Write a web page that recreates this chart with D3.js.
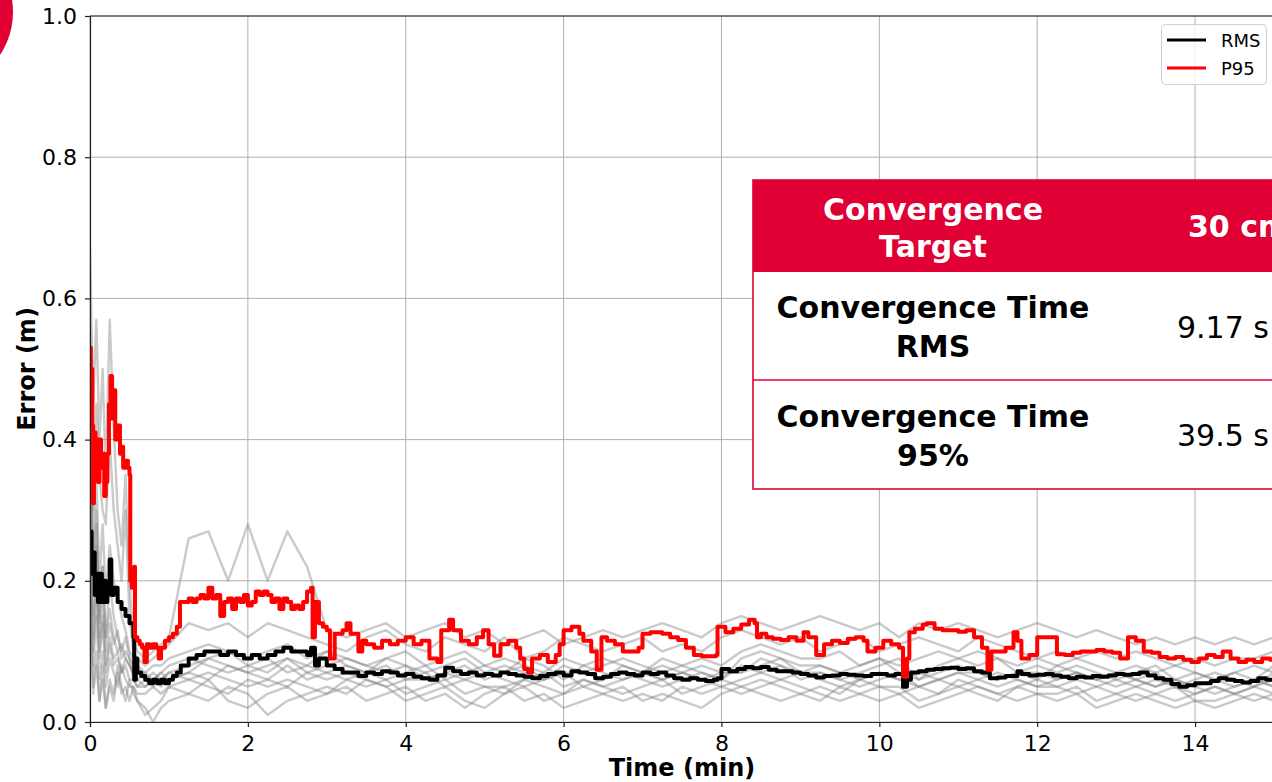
<!DOCTYPE html>
<html><head><meta charset="utf-8">
<script src="https://cdn.jsdelivr.net/npm/d3@7"></script>
<style>html,body{margin:0;padding:0;background:#fff;overflow:hidden}</style>
</head><body>
<svg id="c" width="1272" height="782"></svg>
<script>
// ---------------- DATA ----------------
const xTicks = [0, 2, 4, 6, 8, 10, 12, 14];
const yTicks = [0.0, 0.2, 0.4, 0.6, 0.8, 1.0];
const seriesNames = ["RMS", "P95"];

// time grid (min) shared by the individual runs (grey)
const runTimes = [0,0.04,0.08,0.12,0.16,0.2, 0.25,0.3,0.35,0.4,0.45,0.5,0.55, 0.6,0.7,0.8,0.9,1,
  1.25,1.5,1.75,2, 2.25,2.5,2.75,3, 3.25,3.5,3.75,4, 4.25,4.5,4.75,5, 5.25,5.5,5.75,6, 6.25,6.5,6.75,7,
  7.25,7.5,7.75,8, 8.25,8.5,8.75,9, 9.25,9.5,9.75,10, 10.25,10.5,10.75,11, 11.25,11.5,11.75,12,
  12.25,12.5,12.75,13, 13.25,13.5,13.75,14, 14.25,14.5,14.75,15];

const runA = [0.67,0.45,0.57,0.40,0.50,0.35, 0.57,0.42,0.30,0.25,0.35,0.20,0.12, 0.10,0.09,0.10,0.11,0.12,
  0.26,0.27,0.20,0.28, 0.20,0.27,0.22,0.13, 0.12,0.13,0.14,0.12, 0.13,0.14,0.12,0.13, 0.11,0.12,0.13,0.11,
  0.12,0.13,0.12,0.13, 0.14,0.13,0.12,0.14, 0.15,0.14,0.13,0.14, 0.15,0.14,0.13,0.14, 0.12,0.14,0.13,0.14,
  0.13,0.12,0.13,0.14, 0.13,0.12,0.13,0.12, 0.11,0.12,0.11,0.12, 0.11,0.12,0.11,0.12];
const runB = [0.55,0.30,0.45,0.35,0.30,0.28, 0.40,0.30,0.25,0.20,0.30,0.15,0.10, 0.09,0.08,0.09,0.10,0.11,
  0.14,0.13,0.14,0.12, 0.14,0.13,0.12,0.11, 0.10,0.12,0.13,0.11, 0.10,0.12,0.11,0.10, 0.12,0.09,0.10,0.12,
  0.11,0.10,0.11,0.12, 0.10,0.11,0.10,0.12, 0.13,0.12,0.11,0.12, 0.10,0.11,0.12,0.10, 0.11,0.12,0.11,0.10,
  0.12,0.11,0.10,0.09, 0.10,0.09,0.10,0.09, 0.10,0.09,0.08,0.09, 0.08,0.09,0.09,0.10];
const runC = [0.30,0.12,0.20,0.10,0.15,0.08, 0.12,0.09,0.10,0.07,0.09,0.08,0.07, 0.06,0.05,0.06,0.07,0.08,
  0.09,0.08,0.07,0.08, 0.09,0.07,0.08,0.07, 0.06,0.07,0.08,0.06, 0.07,0.05,0.06,0.07, 0.06,0.05,0.06,0.07,
  0.05,0.06,0.07,0.06, 0.05,0.06,0.07,0.06, 0.08,0.07,0.06,0.07, 0.06,0.05,0.06,0.07, 0.06,0.05,0.06,0.07,
  0.06,0.05,0.06,0.05, 0.06,0.07,0.06,0.05, 0.06,0.05,0.06,0.05, 0.04,0.05,0.06,0.05];
const runD = [0.20,0.05,0.10,0.03,0.08,0.02, 0.06,0.04,0.08,0.05,0.03,0.06,0.04, 0.03,0.01,0.02,0.03,0.05,
  0.04,0.06,0.03,0.02, 0.04,0.05,0.03,0.04, 0.05,0.03,0.04,0.05, 0.03,0.04,0.02,0.04, 0.05,0.03,0.04,0.02,
  0.03,0.04,0.05,0.03, 0.04,0.03,0.02,0.04, 0.05,0.04,0.03,0.04, 0.03,0.05,0.04,0.03, 0.04,0.02,0.03,0.04,
  0.05,0.04,0.03,0.04, 0.03,0.04,0.02,0.03, 0.04,0.03,0.02,0.03, 0.02,0.03,0.04,0.03];
const runE = [0.45,0.15,0.25,0.12,0.18,0.10, 0.14,0.11,0.13,0.09,0.10,0.09,0.08, 0.07,0.06,0.07,0.06,0.07,
  0.08,0.09,0.08,0.07, 0.08,0.09,0.07,0.08, 0.09,0.08,0.07,0.08, 0.07,0.08,0.09,0.07, 0.08,0.07,0.06,0.08,
  0.07,0.08,0.09,0.08, 0.07,0.08,0.07,0.06, 0.09,0.10,0.09,0.08, 0.08,0.07,0.08,0.09, 0.07,0.06,0.08,0.09,
  0.08,0.09,0.07,0.08, 0.07,0.08,0.07,0.06, 0.07,0.08,0.06,0.07, 0.06,0.07,0.06,0.08];
const runF = [0.25,0.08,0.15,0.06,0.10,0.05, 0.09,0.07,0.05,0.08,0.06,0.05,0.05, 0.04,0.04,0.05,0.04,0.05,
  0.06,0.05,0.04,0.06, 0.05,0.06,0.05,0.04, 0.06,0.05,0.06,0.04, 0.05,0.06,0.04,0.05, 0.04,0.06,0.05,0.04,
  0.06,0.05,0.04,0.05, 0.06,0.04,0.05,0.06, 0.05,0.06,0.05,0.04, 0.05,0.04,0.06,0.05, 0.04,0.05,0.04,0.06,
  0.05,0.04,0.05,0.06, 0.05,0.04,0.05,0.04, 0.05,0.04,0.03,0.04, 0.05,0.04,0.05,0.04];
const runG = [0.35,0.20,0.30,0.15,0.22,0.12, 0.20,0.15,0.12,0.10,0.12,0.09,0.06, 0.05,0.05,0.06,0.05,0.06,
  0.07,0.09,0.10,0.08, 0.07,0.09,0.08,0.10, 0.08,0.07,0.09,0.08, 0.06,0.07,0.08,0.06, 0.07,0.09,0.08,0.06,
  0.08,0.07,0.06,0.07, 0.06,0.07,0.08,0.07, 0.07,0.08,0.09,0.07, 0.07,0.06,0.07,0.08, 0.09,0.06,0.07,0.08,
  0.07,0.06,0.07,0.06, 0.08,0.07,0.06,0.07, 0.06,0.07,0.05,0.06, 0.07,0.06,0.05,0.07];
const runH = [0.15,0.04,0.08,0.03,0.06,0.02, 0.05,0.03,0.07,0.04,0.05,0.03,0.05, 0.03,0.02,0.00,0.02,0.03,
  0.04,0.03,0.05,0.04, 0.01,0.03,0.04,0.05, 0.04,0.06,0.05,0.03, 0.04,0.05,0.03,0.02, 0.04,0.05,0.03,0.04,
  0.05,0.04,0.03,0.04, 0.03,0.05,0.04,0.05, 0.04,0.05,0.06,0.05, 0.04,0.03,0.04,0.05, 0.05,0.03,0.04,0.05,
  0.04,0.03,0.05,0.04, 0.04,0.05,0.03,0.04, 0.03,0.04,0.05,0.03, 0.03,0.04,0.03,0.04];
const runI = [0.40,0.25,0.35,0.20,0.28,0.18, 0.25,0.20,0.18,0.15,0.13,0.10,0.09, 0.08,0.07,0.08,0.08,0.09,
  0.10,0.11,0.10,0.09, 0.10,0.11,0.09,0.10, 0.09,0.08,0.09,0.10, 0.08,0.09,0.10,0.08, 0.09,0.08,0.07,0.09,
  0.08,0.09,0.08,0.07, 0.09,0.08,0.09,0.08, 0.10,0.11,0.10,0.09, 0.09,0.10,0.08,0.09, 0.08,0.09,0.10,0.09,
  0.10,0.09,0.08,0.09, 0.08,0.09,0.08,0.07, 0.08,0.07,0.08,0.07, 0.06,0.07,0.08,0.07];
const runJ = [0.28,0.10,0.18,0.09,0.14,0.07, 0.11,0.08,0.09,0.07,0.08,0.06,0.06, 0.05,0.06,0.05,0.06,0.07,
  0.06,0.07,0.06,0.05, 0.06,0.05,0.07,0.06, 0.07,0.06,0.05,0.06, 0.06,0.07,0.06,0.05, 0.05,0.06,0.07,0.05,
  0.06,0.05,0.06,0.07, 0.06,0.07,0.06,0.05, 0.06,0.07,0.08,0.06, 0.07,0.06,0.05,0.06, 0.07,0.05,0.06,0.05,
  0.06,0.07,0.06,0.05, 0.05,0.06,0.05,0.06, 0.05,0.06,0.05,0.04, 0.05,0.04,0.05,0.06];
const runK = [0.50,0.18,0.28,0.14,0.22,0.12, 0.16,0.12,0.10,0.11,0.09,0.08,0.07, 0.06,0.07,0.06,0.07,0.06,
  0.07,0.06,0.08,0.07, 0.06,0.08,0.06,0.07, 0.08,0.07,0.06,0.07, 0.08,0.06,0.07,0.08, 0.07,0.08,0.06,0.07,
  0.07,0.06,0.08,0.07, 0.08,0.07,0.06,0.07, 0.07,0.09,0.08,0.07, 0.08,0.07,0.06,0.07, 0.06,0.07,0.06,0.07,
  0.07,0.06,0.07,0.07, 0.06,0.07,0.06,0.07, 0.06,0.05,0.06,0.05, 0.06,0.05,0.06,0.05];
const runs = [runA, runB, runC, runD, runE, runF, runG, runH, runI, runJ, runK];

// RMS [time (min), error (m)]
const rmsPoints = [[0,0.27],[0.02,0.21],[0.04,0.24],[0.06,0.18],[0.08,0.21],[0.1,0.17],[0.12,0.21],[0.15,0.17],
 [0.18,0.2],[0.2,0.17],[0.22,0.19],[0.25,0.23],[0.27,0.18],[0.3,0.19],[0.35,0.17],[0.4,0.16],[0.45,0.15],
 [0.5,0.14],[0.55,0.12],[0.56,0.06],[0.58,0.09],[0.6,0.07],[0.65,0.065],[0.7,0.06],[0.75,0.055],[0.8,0.06],
 [0.85,0.055],[0.9,0.06],[0.95,0.055],[1.0,0.06],[1.05,0.065],[1.1,0.07],[1.15,0.08],[1.2,0.08],[1.25,0.09],
 [1.35,0.095],[1.45,0.1],[1.55,0.1],[1.65,0.095],[1.75,0.1],[1.85,0.095],[1.95,0.09],[2.05,0.095],[2.15,0.09],
 [2.25,0.095],[2.35,0.1],[2.45,0.105],[2.55,0.1],[2.65,0.1],[2.75,0.095],[2.8,0.105],[2.85,0.08],[2.9,0.09],
 [3.0,0.08],[3.1,0.075],[3.2,0.07],[3.3,0.07],[3.4,0.065],[3.5,0.07],[3.6,0.068],[3.7,0.072],[3.8,0.07],
 [3.9,0.066],[4.0,0.068],[4.1,0.064],[4.2,0.062],[4.3,0.06],[4.4,0.066],[4.5,0.077],[4.6,0.072],[4.7,0.068],
 [4.8,0.07],[4.9,0.066],[5.0,0.068],[5.1,0.066],[5.2,0.07],[5.3,0.068],[5.4,0.066],[5.5,0.064],[5.6,0.062],
 [5.7,0.065],[5.8,0.068],[5.9,0.07],[6.0,0.066],[6.1,0.072],[6.2,0.07],[6.3,0.068],[6.4,0.062],[6.5,0.064],
 [6.6,0.068],[6.7,0.07],[6.8,0.068],[6.9,0.066],[7.0,0.07],[7.1,0.068],[7.2,0.07],[7.3,0.066],[7.4,0.062],
 [7.5,0.06],[7.6,0.062],[7.7,0.06],[7.8,0.058],[7.9,0.06],[7.95,0.062],[8.0,0.075],[8.1,0.072],[8.2,0.075],
 [8.3,0.078],[8.4,0.076],[8.5,0.078],[8.6,0.074],[8.7,0.072],[8.8,0.072],[8.9,0.07],[9.0,0.068],[9.1,0.066],
 [9.2,0.063],[9.3,0.065],[9.4,0.066],[9.5,0.068],[9.6,0.067],[9.7,0.066],[9.8,0.065],[9.9,0.068],[10.0,0.068],
 [10.1,0.066],[10.2,0.068],[10.3,0.05],[10.35,0.06],[10.4,0.07],[10.5,0.072],[10.6,0.074],[10.7,0.075],
 [10.8,0.076],[10.9,0.077],[11.0,0.075],[11.1,0.076],[11.2,0.072],[11.3,0.07],[11.4,0.062],[11.5,0.063],
 [11.6,0.065],[11.7,0.065],[11.75,0.072],[11.8,0.068],[11.9,0.066],[12.0,0.067],[12.1,0.068],[12.2,0.066],
 [12.3,0.064],[12.4,0.062],[12.5,0.064],[12.6,0.063],[12.7,0.065],[12.8,0.064],[12.9,0.066],[13.0,0.068],
 [13.1,0.067],[13.2,0.068],[13.3,0.07],[13.4,0.066],[13.5,0.062],[13.6,0.06],[13.7,0.054],[13.8,0.05],
 [13.9,0.052],[14.0,0.055],[14.1,0.055],[14.2,0.058],[14.3,0.062],[14.4,0.06],[14.5,0.058],[14.6,0.056],
 [14.7,0.058],[14.8,0.062],[14.9,0.06],[15.0,0.063]];

// P95 [time (min), error (m)]
const p95Points = [[0,0.53],[0.01,0.5],[0.03,0.42],[0.04,0.31],[0.05,0.41],[0.07,0.38],[0.09,0.4],[0.1,0.34],
 [0.12,0.4],[0.14,0.36],[0.16,0.38],[0.18,0.32],[0.2,0.34],[0.22,0.38],[0.24,0.45],[0.26,0.49],[0.28,0.43],
 [0.3,0.47],[0.32,0.4],[0.35,0.42],[0.38,0.38],[0.4,0.39],[0.42,0.36],[0.45,0.37],[0.48,0.36],[0.5,0.35],
 [0.51,0.2],[0.53,0.19],[0.55,0.21],[0.56,0.22],[0.57,0.12],[0.6,0.115],[0.63,0.11],[0.66,0.105],[0.69,0.085],
 [0.72,0.11],[0.76,0.105],[0.8,0.11],[0.84,0.105],[0.87,0.09],[0.9,0.105],[0.95,0.115],[1.0,0.12],[1.05,0.125],
 [1.1,0.135],[1.14,0.17],[1.2,0.17],[1.25,0.175],[1.3,0.17],[1.35,0.175],[1.4,0.18],[1.45,0.175],[1.5,0.19],
 [1.55,0.175],[1.6,0.18],[1.65,0.15],[1.7,0.17],[1.75,0.175],[1.8,0.16],[1.85,0.175],[1.9,0.17],[1.95,0.18],
 [2.0,0.165],[2.05,0.17],[2.1,0.185],[2.15,0.18],[2.2,0.185],[2.25,0.18],[2.3,0.17],[2.35,0.175],[2.4,0.16],
 [2.45,0.175],[2.5,0.17],[2.55,0.16],[2.6,0.165],[2.65,0.16],[2.7,0.17],[2.75,0.185],[2.8,0.19],[2.82,0.12],
 [2.85,0.17],[2.9,0.14],[2.95,0.135],[3.0,0.13],[3.04,0.09],[3.1,0.125],[3.2,0.13],[3.25,0.14],[3.3,0.125],
 [3.4,0.1],[3.45,0.115],[3.5,0.11],[3.6,0.105],[3.7,0.115],[3.8,0.11],[3.9,0.115],[4.0,0.12],[4.1,0.11],
 [4.2,0.115],[4.3,0.09],[4.4,0.085],[4.45,0.13],[4.55,0.145],[4.6,0.13],[4.7,0.115],[4.8,0.11],[4.9,0.12],
 [4.98,0.13],[5.05,0.11],[5.12,0.094],[5.2,0.11],[5.3,0.115],[5.4,0.105],[5.45,0.09],[5.5,0.075],[5.55,0.07],
 [5.6,0.09],[5.7,0.095],[5.8,0.085],[5.9,0.095],[5.95,0.11],[6.0,0.13],[6.1,0.135],[6.2,0.125],[6.25,0.115],
 [6.35,0.1],[6.42,0.074],[6.48,0.12],[6.55,0.115],[6.65,0.11],[6.75,0.1],[6.85,0.1],[6.95,0.105],[7.0,0.125],
 [7.1,0.127],[7.25,0.125],[7.35,0.12],[7.45,0.116],[7.55,0.105],[7.65,0.095],[7.75,0.093],[7.85,0.093],
 [7.93,0.095],[7.95,0.135],[8.05,0.127],[8.15,0.132],[8.25,0.138],[8.35,0.145],[8.42,0.14],[8.45,0.12],
 [8.5,0.125],[8.57,0.12],[8.65,0.118],[8.75,0.116],[8.85,0.12],[8.95,0.115],[9.04,0.127],[9.1,0.12],[9.2,0.095],
 [9.3,0.11],[9.4,0.115],[9.5,0.112],[9.6,0.118],[9.7,0.12],[9.8,0.115],[9.85,0.1],[9.95,0.105],[10.05,0.115],
 [10.15,0.11],[10.25,0.105],[10.3,0.064],[10.35,0.09],[10.38,0.127],[10.45,0.132],[10.55,0.138],[10.6,0.14],
 [10.7,0.132],[10.8,0.13],[10.9,0.13],[11.0,0.128],[11.1,0.13],[11.2,0.12],[11.3,0.105],[11.37,0.074],
 [11.42,0.1],[11.5,0.1],[11.6,0.105],[11.7,0.127],[11.75,0.115],[11.8,0.09],[11.9,0.095],[12.0,0.12],
 [12.1,0.12],[12.2,0.12],[12.25,0.096],[12.35,0.095],[12.45,0.098],[12.55,0.1],[12.65,0.1],[12.75,0.102],
 [12.85,0.1],[12.95,0.098],[13.05,0.09],[13.15,0.12],[13.25,0.115],[13.35,0.1],[13.45,0.098],[13.55,0.092],
 [13.65,0.09],[13.75,0.092],[13.85,0.088],[13.95,0.085],[14.05,0.09],[14.15,0.095],[14.25,0.092],[14.35,0.1],
 [14.45,0.09],[14.55,0.085],[14.65,0.088],[14.75,0.085],[14.85,0.09],[14.95,0.088],[15.0,0.1]];

const tableHeader = [["Convergence", "Target"], ["30 cm"]];
const tableRowLabels = [["Convergence Time", "RMS"], ["Convergence Time", "95%"]];
const tableRowValues = ["9.17 s", "39.5 s"];

// ---------------- CHART ----------------
(function draw() {
runs.forEach((r, i) => { if (r.length !== runTimes.length) throw new Error("run " + i + " length " + r.length); });

const svg = d3.select("#c");
const pL = 90, pR = 1274, pT = 16, pB = 722;
const x = d3.scaleLinear().domain([0, 15]).range([pL, pR]);
const y = d3.scaleLinear().domain([0, 1]).range([pB, pT]);
const FONT = "'DejaVu Sans', Verdana, sans-serif";
const tableRed = "#e00034";

// corner disc
svg.append("circle").attr("cx", -65).attr("cy", 12).attr("r", 78).attr("fill", tableRed);

svg.append("defs").append("clipPath").attr("id", "clip")
  .append("rect").attr("x", pL).attr("y", pT).attr("width", pR - pL).attr("height", pB - pT);

// grid
const grid = svg.append("g");
grid.selectAll(".gx").data(xTicks).join("line")
  .attr("x1", d => x(d)).attr("x2", d => x(d)).attr("y1", pT).attr("y2", pB)
  .attr("stroke", "#b0b0b0").attr("stroke-width", 1);
grid.selectAll(".gy").data(yTicks).join("line")
  .attr("x1", pL).attr("x2", pR).attr("y1", d => y(d)).attr("y2", d => y(d))
  .attr("stroke", "#b0b0b0").attr("stroke-width", 1);

const plot = svg.append("g").attr("clip-path", "url(#clip)");
const runLine = d3.line().x((d, i) => x(runTimes[i])).y(d => y(d));
plot.selectAll(".run").data(runs).join("path")
  .attr("d", d => runLine(d)).attr("fill", "none")
  .attr("stroke", "#808080").attr("stroke-opacity", 0.42).attr("stroke-width", 2.4)
  .attr("stroke-linejoin", "round");

const ptLine = d3.line().curve(d3.curveStepAfter).x(d => x(d[0])).y(d => y(d[1]));
plot.append("path").attr("d", ptLine(rmsPoints)).attr("fill", "none")
  .attr("stroke", "#000").attr("stroke-width", 4).attr("stroke-linejoin", "round");
plot.append("path").attr("d", ptLine(p95Points)).attr("fill", "none")
  .attr("stroke", "#ff0000").attr("stroke-width", 4).attr("stroke-linejoin", "round");

// axes
const xAxis = svg.append("g").attr("transform", `translate(0,${pB})`)
  .call(d3.axisBottom(x).tickValues(xTicks).tickFormat(d3.format("d")).tickSize(5).tickPadding(8));
const yAxis = svg.append("g").attr("transform", `translate(${pL},0)`)
  .call(d3.axisLeft(y).tickValues(yTicks).tickFormat(d3.format(".1f")).tickSize(5).tickPadding(8));
[xAxis, yAxis].forEach(g => {
  g.selectAll("text").attr("font-family", FONT).attr("font-size", 22).attr("fill", "#000");
  g.selectAll("line").attr("stroke", "#222").attr("stroke-width", 1.2);
  g.select(".domain").attr("stroke", "#222").attr("stroke-width", 1.2);
});
svg.append("line").attr("x1", pL).attr("x2", pR).attr("y1", pT).attr("y2", pT)
  .attr("stroke", "#222").attr("stroke-width", 1.2);
svg.append("line").attr("x1", pR).attr("x2", pR).attr("y1", pT).attr("y2", pB)
  .attr("stroke", "#222").attr("stroke-width", 1.2);

svg.append("text").attr("x", (pL + pR) / 2).attr("y", 776).attr("text-anchor", "middle")
  .attr("font-family", FONT).attr("font-weight", "bold").attr("font-size", 24).text("Time (min)");
svg.append("text").attr("transform", `translate(35,${(pT + pB) / 2}) rotate(-90)`)
  .attr("text-anchor", "middle").attr("font-family", FONT).attr("font-weight", "bold")
  .attr("font-size", 24).text("Error (m)");

// legend
const lg = svg.append("g");
lg.append("rect").attr("x", 1161.5).attr("y", 24.5).attr("width", 105).attr("height", 60).attr("rx", 4)
  .attr("fill", "#fff").attr("fill-opacity", 0.8).attr("stroke", "#d0d0d0").attr("stroke-width", 1);
const legColors = ["#000", "#ff0000"];
seriesNames.forEach((n, i) => {
  const yy = 40 + i * 28;
  lg.append("line").attr("x1", 1167).attr("x2", 1206).attr("y1", yy).attr("y2", yy)
    .attr("stroke", legColors[i]).attr("stroke-width", 3);
  lg.append("text").attr("x", 1221).attr("y", yy + 7).attr("font-family", FONT).attr("font-size", 18)
    .attr("fill", "#000").text(n);
});

// table (reference crops it at the right edge of the picture)
const tb = svg.append("g");
const tX = 753, tW = 560, tY = 180, hH = 92, r1 = 380, tBot = 489;
tb.append("rect").attr("x", tX).attr("y", tY).attr("width", tW).attr("height", tBot - tY)
  .attr("fill", "#fff").attr("stroke", tableRed).attr("stroke-width", 1.6);
tb.append("rect").attr("x", tX).attr("y", tY).attr("width", tW).attr("height", hH).attr("fill", tableRed);
tb.append("line").attr("x1", tX).attr("x2", tX + tW).attr("y1", r1).attr("y2", r1)
  .attr("stroke", tableRed).attr("stroke-width", 1.6);
const c1 = 933;
tb.append("text").attr("x", c1).attr("y", 220).attr("text-anchor", "middle").attr("fill", "#fff")
  .attr("font-family", FONT).attr("font-weight", "bold").attr("font-size", 30).text(tableHeader[0][0]);
tb.append("text").attr("x", c1).attr("y", 257).attr("text-anchor", "middle").attr("fill", "#fff")
  .attr("font-family", FONT).attr("font-weight", "bold").attr("font-size", 30).text(tableHeader[0][1]);
tb.append("text").attr("x", 1188).attr("y", 237).attr("fill", "#fff")
  .attr("font-family", FONT).attr("font-weight", "bold").attr("font-size", 30).text(tableHeader[1][0]);
const rowBase = [[318, 357, 338], [427, 466, 446]];
tableRowLabels.forEach((lab, i) => {
  tb.append("text").attr("x", c1).attr("y", rowBase[i][0]).attr("text-anchor", "middle").attr("fill", "#000")
    .attr("font-family", FONT).attr("font-weight", "bold").attr("font-size", 30).text(lab[0]);
  tb.append("text").attr("x", c1).attr("y", rowBase[i][1]).attr("text-anchor", "middle").attr("fill", "#000")
    .attr("font-family", FONT).attr("font-weight", "bold").attr("font-size", 30).text(lab[1]);
  tb.append("text").attr("x", 1177).attr("y", rowBase[i][2]).attr("fill", "#000")
    .attr("font-family", FONT).attr("font-size", 30).text(tableRowValues[i]);
});
})();
</script>
</body></html>
